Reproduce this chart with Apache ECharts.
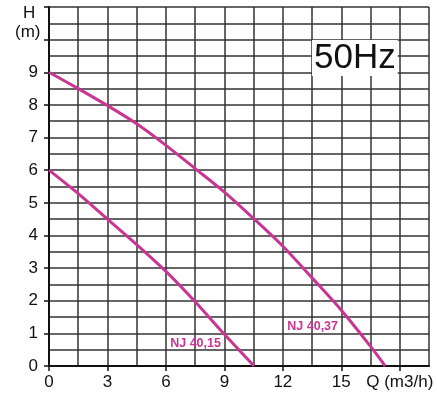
<!DOCTYPE html>
<html>
<head>
<meta charset="utf-8">
<script src="https://cdn.jsdelivr.net/npm/echarts@6/dist/echarts.min.js"></script>
<style>
  html, body { margin: 0; padding: 0; background: #fff; }
  #chart { width: 437px; height: 395px; }
</style>
</head>
<body>
<div id="chart"></div>
<script>
// 曲线数据 [Q, H]
const curve4015 = [[0, 6], [1.5, 5.28], [3, 4.5], [4.5, 3.72], [6, 2.9], [7.5, 1.97], [9, 0.97], [10.52, 0]]
const curve4037 = [[0, 9], [1.5, 8.5], [3, 7.98], [4.5, 7.42], [6, 6.76], [7.5, 6.05], [9, 5.33], [10.5, 4.52],
  [12, 3.67], [13.5, 2.7], [15, 1.71], [16.5, 0.6], [17.25, 0]]
const seriesNames = ['NJ 40,15', 'NJ 40,37']
// 标签位置
const labelPos4015 = [7.52, 0.68]
const labelPos4037 = [13.53, 1.2]
// 刻度
const xTickValues = [0, 3, 6, 9, 12, 15, 18]
const yLabelMax = 9

const lineColor = '#c93593'
const gridColor = '#333'
const font = 'Liberation Sans, Arial, sans-serif'

const chart = echarts.init(document.getElementById('chart'))

const makeSeries = (name, data, pos) => ({
  name,
  type: 'line',
  smooth: 0.3,
  symbol: 'none',
  data,
  lineStyle: { color: lineColor, width: 3 },
  markPoint: {
    symbol: 'circle',
    symbolSize: 0,
    data: [{ coord: pos, value: name }],
    label: {
      show: true,
      position: 'inside',
      formatter: name,
      color: lineColor,
      opacity: 1,
      textBorderWidth: 0,
      fontWeight: 'bold',
      fontSize: 12.5,
      fontFamily: font
    }
  }
})

const gridLine = { show: true, lineStyle: { color: gridColor, width: 1.5 } }

const options = {
  animation: false,
  grid: { left: 49, right: 8, top: 7, bottom: 29 },
  xAxis: [
    {
      // 网格线
      type: 'value',
      position: 'bottom',
      min: 0,
      max: 19.5,
      interval: 1.5,
      axisLine: { show: true, lineStyle: { color: '#111', width: 2 } },
      axisTick: { show: false },
      axisLabel: { show: false },
      splitLine: gridLine
    },
    {
      // 刻度和标签
      type: 'value',
      position: 'bottom',
      min: 0,
      max: 19.5,
      interval: 3,
      axisLine: { show: false },
      axisTick: { show: true, length: 5, customValues: xTickValues, lineStyle: { color: '#111', width: 1.5 } },
      axisLabel: {
        customValues: xTickValues,
        margin: 8,
        fontSize: 17,
        color: '#111',
        fontFamily: font,
        formatter: (v) => (v === 18 ? 'Q (m3/h)' : String(v))
      },
      splitLine: { show: false }
    }
  ],
  yAxis: {
    type: 'value',
    min: 0,
    max: 11,
    interval: 1,
    axisLine: { show: true, lineStyle: { color: '#111', width: 2 } },
    axisTick: { show: true, length: 5, lineStyle: { color: '#111', width: 1.5 } },
    minorTick: { show: false, splitNumber: 2 },
    axisLabel: {
      margin: 11,
      fontSize: 17,
      color: '#111',
      fontFamily: font,
      formatter: (v) => (v <= yLabelMax ? String(v) : '')
    },
    splitLine: gridLine,
    minorSplitLine: gridLine
  },
  graphic: [
    {
      type: 'text',
      left: 23,
      top: 5,
      style: { text: 'H', fontSize: 17, fill: '#111', fontFamily: font }
    },
    {
      type: 'text',
      left: 15,
      top: 24,
      style: { text: '(m)', fontSize: 17, fill: '#111', fontFamily: font }
    },
    {
      type: 'text',
      left: 312,
      top: 40,
      z: 10,
      style: {
        text: '50Hz',
        fontSize: 35,
        fill: '#111',
        fontFamily: font,
        backgroundColor: '#fff',
        padding: [1, 2, 0, 2]
      }
    }
  ],
  series: [
    makeSeries(seriesNames[0], curve4015, labelPos4015),
    makeSeries(seriesNames[1], curve4037, labelPos4037)
  ]
}

chart.setOption(options)
</script>
</body>
</html>
